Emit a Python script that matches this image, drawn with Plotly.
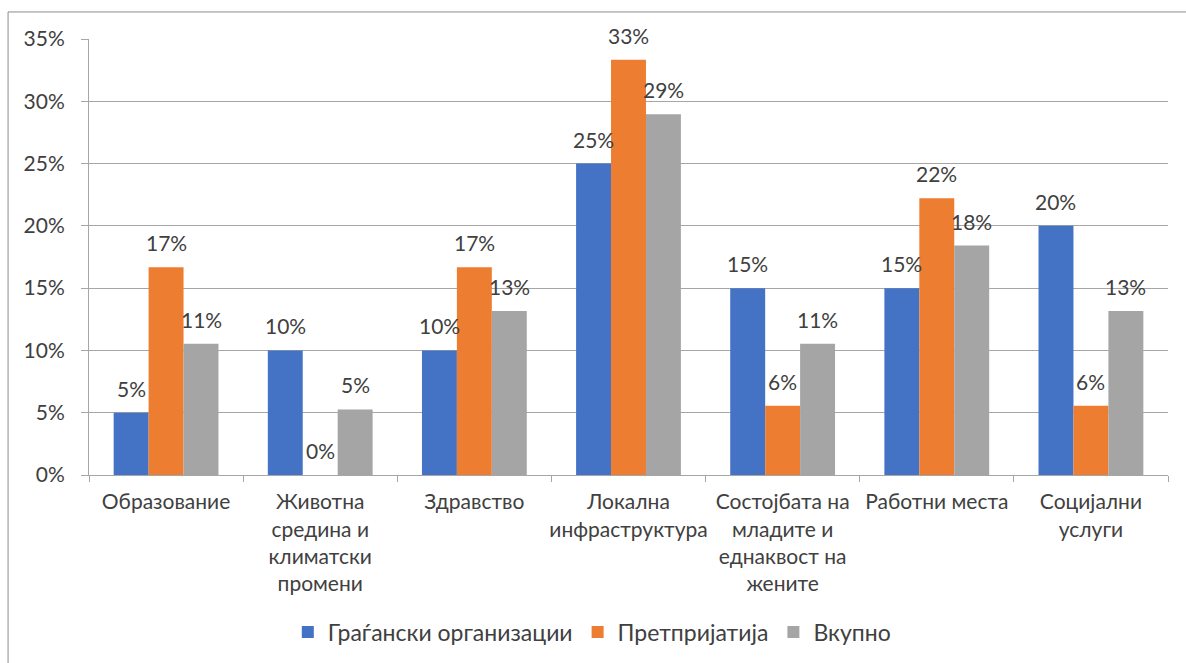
import plotly.graph_objects as go

categories = [
    "Образование",
    "Животна<br>средина и<br>климатски<br>промени",
    "Здравство",
    "Локална<br>инфраструктура",
    "Состојбата на<br>младите и<br>еднаквост на<br>жените",
    "Работни места",
    "Социјални<br>услуги",
]

civil_orgs = [0.05, 0.10, 0.10, 0.25, 0.15, 0.15, 0.20]
companies = [0.1667, 0.0, 0.1667, 0.3333, 0.0556, 0.2222, 0.0556]
total = [0.1053, 0.0526, 0.1316, 0.2895, 0.1053, 0.1842, 0.1316]

series = [
    ("Граѓански организации", civil_orgs, "#4472C4"),
    ("Претпријатија", companies, "#ED7D31"),
    ("Вкупно", total, "#A5A5A5"),
]

font_family = "Lato, 'Open Sans', sans-serif"
text_color = "#404040"
font_size = 21

W, H = 1186, 663
margin = dict(l=89, r=18, t=39, b=188)
bargap = 0.32

fig = go.Figure()
for name, values, color in series:
    fig.add_trace(go.Bar(
        x=categories,
        y=values,
        name=name,
        marker=dict(color=color, line=dict(width=0)),
    ))

# data labels above the bars, offset sideways to sit over each bar in its group
plot_w = W - margin["l"] - margin["r"]
bar_px = plot_w / len(categories) * (1 - bargap) / len(series)
annotations = []
for i, (name, values, color) in enumerate(series):
    for cat, v in zip(categories, values):
        annotations.append(dict(
            x=cat, y=v, xref="x", yref="y",
            text=f"{v:.0%}",
            showarrow=False,
            xshift=(i - (len(series) - 1) / 2) * bar_px,
            yshift=10,
            yanchor="bottom",
            font=dict(size=font_size, color=text_color, family=font_family),
        ))

fig.update_layout(
    width=W,
    height=H,
    barmode="group",
    bargap=bargap,
    bargroupgap=0,
    plot_bgcolor="white",
    paper_bgcolor="white",
    margin=dict(**margin, autoexpand=False),
    font=dict(family=font_family, size=font_size, color=text_color),
    showlegend=True,
    legend=dict(
        orientation="h",
        x=0.466, xanchor="center",
        y=-0.36, yanchor="middle",
        font=dict(size=23, color=text_color),
    ),
    annotations=annotations,
    shapes=[dict(
        type="rect", xref="paper", yref="paper",
        x0=-0.075, x1=1.2, y0=-0.6, y1=1.062,
        line=dict(color="#8c8c8c", width=1),
        layer="below",
    )],
)

fig.update_xaxes(
    showline=True, linecolor="#a6a6a6", linewidth=1,
    ticks="outside", tickson="boundaries", ticklen=6, tickcolor="#a6a6a6",
    tickangle=0,
    tickfont=dict(size=font_size, color=text_color),
    ticklabelstandoff=8,
)
fig.update_yaxes(
    range=[0, 0.35],
    tickvals=[0, 0.05, 0.10, 0.15, 0.20, 0.25, 0.30, 0.35],
    tickformat=".0%",
    showgrid=True, gridcolor="#a6a6a6", gridwidth=1,
    showline=True, linecolor="#a6a6a6", linewidth=1,
    ticks="outside", ticklen=7, tickcolor="#a6a6a6",
    tickfont=dict(size=font_size, color=text_color),
    ticklabelstandoff=12,
    zeroline=False,
)

fig.write_html(
    "out.html",
    config={"displayModeBar": False},
    post_script="document.body.style.margin='0';",
)
